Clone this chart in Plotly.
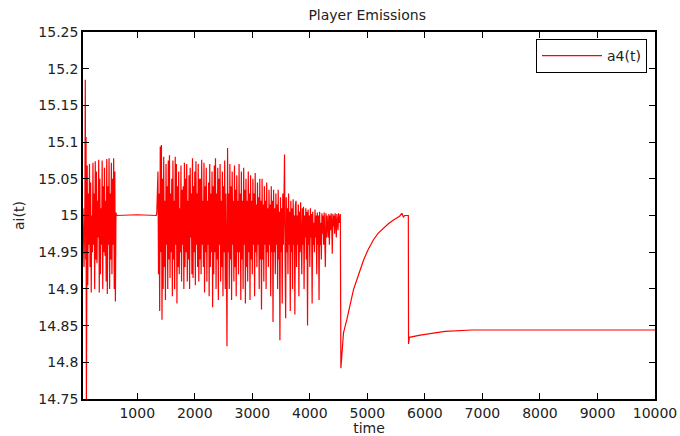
import numpy as np
import plotly.graph_objects as go

# ---- data: emission level a4(t) over time ----
# start-up transient
head_t = [57, 75, 90, 97, 104, 110, 116, 122]
head_v = [15.01, 14.93, 15.02, 15.185, 14.94, 15.107, 14.74, 15.06]

# first oscillating phase, sampled every 10 time units from t=130
osc1_start, osc1_step = 130, 10
osc1_v = [
    15.068, 14.905, 15.03, 14.96, 15.07, 14.93, 15.045, 14.895, 15.0, 14.95,
    15.072, 14.96, 15.03, 14.9, 15.074, 14.94, 15.06, 14.935, 15.02, 14.97,
    15.076, 14.895, 15.05, 14.92, 15.01, 14.96, 15.075, 14.9, 15.04, 14.95,
    15.065, 14.945, 15.02, 14.91, 15.077, 14.893, 15.04, 14.96, 15.078, 14.9,
    15.03, 14.94, 15.072, 14.92, 15.05, 14.96, 15.078, 14.9, 15.06,
]

# settling into the plateau
plateau_t = [620, 630, 640, 1000, 1330, 1340]
plateau_v = [14.883, 15.004, 15.0, 15.001, 15.0, 15.004]

# second oscillating phase, sampled every 10 time units from t=1360
osc2_start, osc2_step = 1360, 10
osc2_v = [
    15.06, 14.92, 15.03, 14.87, 15.094, 14.95, 15.096, 14.858, 15.05, 14.9,
    15.08, 14.93, 15.02, 14.885, 15.07, 14.96, 15.04, 14.9, 15.075, 14.94,
    15.082, 14.915, 15.03, 14.95, 15.05, 14.89, 15.075, 14.94, 15.02, 14.9,
    15.08, 14.96, 15.07, 14.88, 15.04, 14.93, 15.06, 14.92, 15.01, 14.95,
    15.068, 14.91, 15.035, 14.96, 15.04, 14.9, 15.072, 14.93, 15.05, 14.95,
    15.07, 14.91, 15.02, 14.94, 15.055, 14.9, 15.065, 14.97, 15.03, 14.92,
    15.078, 14.915, 15.04, 14.95, 15.06, 14.905, 15.074, 14.96, 15.03, 14.93,
    15.07, 14.91, 15.05, 14.94, 15.05, 14.92, 15.076, 14.96, 15.02, 14.93,
    15.072, 14.895, 15.04, 14.95, 15.065, 14.91, 15.02, 14.96, 15.045, 14.89,
    15.07, 14.93, 15.03, 14.95, 15.06, 14.875, 15.04, 14.92, 15.068, 14.95,
    15.078, 14.9, 15.03, 14.94, 15.065, 14.885, 15.05, 14.96, 15.07, 14.91,
    15.02, 14.93, 15.06, 14.89, 15.04, 14.95, 15.075, 14.9, 15.03, 14.94,
    14.822, 15.092, 14.95, 15.03, 14.9, 15.07, 14.94, 15.04, 14.885, 15.06,
    14.96, 15.02, 14.91, 15.068, 14.93, 15.035, 14.89, 15.055, 14.95, 15.02,
    14.92, 15.07, 14.95, 15.03, 14.885, 15.06, 14.94, 15.02, 14.9, 15.065,
    14.96, 15.035, 14.88, 15.05, 14.93, 15.02, 14.91, 15.06, 14.95, 15.03,
    14.885, 15.055, 14.94, 15.02, 14.92, 15.05, 14.96, 15.03, 14.89, 15.058,
    14.95, 15.015, 14.93, 15.045, 14.96, 15.025, 14.9, 15.05, 14.94, 15.02,
    14.872, 15.05, 14.94, 15.015, 14.91, 15.04, 14.96, 15.02, 14.9, 15.045,
    14.95, 15.01, 14.93, 15.035, 14.96, 15.015, 14.89, 15.04, 14.95, 15.02,
    14.855, 15.035, 14.95, 15.01, 14.92, 15.03, 14.96, 15.015, 14.9, 15.035,
    14.94, 15.005, 14.83, 15.025, 14.95, 15.01, 14.88, 15.03, 14.96, 15.015,
    15.083, 14.94, 14.86, 15.025, 14.95, 15.01, 14.92, 15.03, 14.96, 15.005,
    14.87, 15.02, 14.95, 15.01, 14.9, 15.022, 14.96, 15.0, 14.865, 15.015,
    15.02, 14.93, 15.0, 14.96, 15.015, 14.89, 15.005, 14.95, 15.018, 14.97,
    14.92, 15.01, 14.96, 15.012, 14.9, 15.0, 14.97, 15.01, 14.94, 15.005,
    14.85, 15.008, 14.96, 15.0, 14.93, 15.01, 14.97, 15.002, 14.88, 15.005,
    14.96, 14.99, 14.95, 15.008, 14.97, 15.0, 14.92, 15.004, 14.96, 15.0,
    14.885, 15.005, 14.96, 14.99, 14.94, 15.003, 14.975, 15.0, 14.96, 15.004,
    14.98, 14.93, 15.003, 14.97, 15.0, 14.985, 14.97, 15.002, 14.96, 15.0,
    14.98, 15.003, 14.99, 14.948, 15.002, 14.985, 15.0, 14.975, 15.003, 14.99,
    14.97, 15.002, 14.995, 14.98, 15.003, 14.99, 14.995,
]

# drop, recovery, second drop and final steady level
tail_t = [4530, 4540, 4557, 4585, 4643, 4700, 4759, 4850, 4933, 5010, 5106, 5190, 5280,
          5370, 5454, 5560, 5600, 5625, 5650, 5712, 5716, 5730, 5920, 6140, 6350, 6820, 10000]
tail_v = [15.002, 14.792, 14.817, 14.84, 14.858, 14.88, 14.899, 14.92, 14.939, 14.953, 14.967,
          14.976, 14.983, 14.989, 14.994, 14.999, 15.003, 14.998, 15.0, 15.0, 14.825,
          14.834, 14.837, 14.84, 14.842, 14.844, 14.844]

y_ticks = [14.75, 14.8, 14.85, 14.9, 14.95, 15.0, 15.05, 15.1, 15.15, 15.2, 15.25]
y_tick_text = ["14.75", "14.8", "14.85", "14.9", "14.95", "15", "15.05", "15.1", "15.15", "15.2", "15.25"]
x_ticks = [1000, 2000, 3000, 4000, 5000, 6000, 7000, 8000, 9000, 10000]
x_tick_text = [str(v) for v in x_ticks]

# ---- assemble the series ----
osc1_t = osc1_start + osc1_step * np.arange(len(osc1_v))
osc2_t = osc2_start + osc2_step * np.arange(len(osc2_v))
t = np.concatenate([head_t, osc1_t, plateau_t, osc2_t, tail_t])
a4 = np.concatenate([head_v, osc1_v, plateau_v, osc2_v, tail_v])

font_family = "DejaVu Sans"
text_color = "#222"

fig = go.Figure()
fig.add_trace(go.Scatter(x=t, y=a4, mode="lines", name="a4(t)",
                         line=dict(color="#ff0000", width=1.2)))

axis_common = dict(showline=True, linecolor="black", linewidth=1.5, mirror="ticks",
                   ticks="inside", ticklen=6, tickcolor="black", tickwidth=1,
                   showgrid=False, zeroline=False, automargin=False,
                   tickfont=dict(family=font_family, size=14, color=text_color))

fig.update_layout(
    width=680, height=436,
    margin=dict(l=83, r=25, t=32, b=37),
    paper_bgcolor="white", plot_bgcolor="white",
    font=dict(family=font_family, size=14, color=text_color),
    title=dict(text="Player Emissions", x=0.54, xanchor="center",
               y=1 - 15 / 436, yanchor="middle", yref="container",
               font=dict(family=font_family, size=14, color=text_color)),
    xaxis=dict(range=[57, 10000], tickvals=x_ticks, ticktext=x_tick_text,
               title=dict(text="time", standoff=2,
                          font=dict(family=font_family, size=14, color=text_color)),
               **axis_common),
    yaxis=dict(range=[14.75, 15.25], tickvals=y_ticks, ticktext=y_tick_text,
               title=dict(text="ai(t)", standoff=10,
                          font=dict(family=font_family, size=14, color=text_color)),
               **axis_common),
    showlegend=True,
    legend=dict(x=0.986, y=0.981, xanchor="right", yanchor="top",
                bgcolor="white", bordercolor="black", borderwidth=1,
                itemwidth=60,
                font=dict(family=font_family, size=14, color=text_color)),
)

fig.write_html("out.html")
